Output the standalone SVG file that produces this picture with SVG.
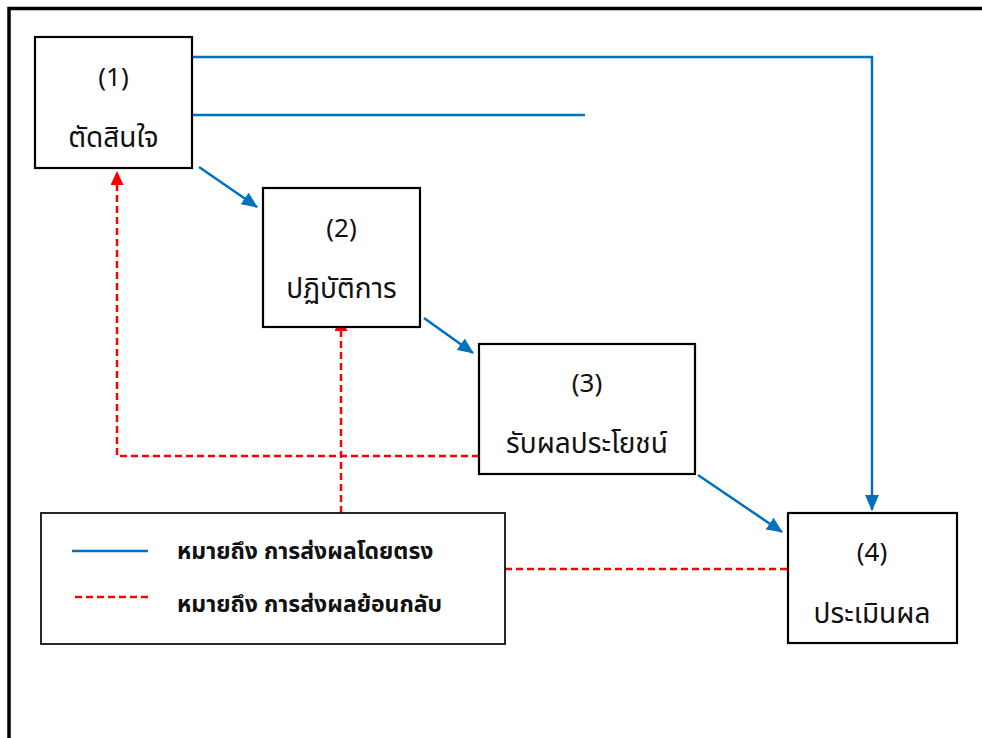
<svg xmlns="http://www.w3.org/2000/svg" width="982" height="738" viewBox="0 0 982 738">
<style>
.box{fill:#fff;stroke:#000;stroke-width:2.2}
.t{font-family:"Noto Sans Thai","Leelawadee UI",Tahoma,"Noto Sans","DejaVu Sans",sans-serif;font-size:28px;fill:#111;text-anchor:middle}
.n{font-family:"Noto Sans","DejaVu Sans",sans-serif;font-size:26px;fill:#111;text-anchor:middle}
.lg{font-family:"Noto Sans Thai","Leelawadee UI",Tahoma,"Noto Sans","DejaVu Sans",sans-serif;font-size:23px;font-weight:bold;fill:#111}
.blue{fill:none;stroke:#0070C0;stroke-width:2.5}
.red{fill:none;stroke:#FF0000;stroke-width:2.5;stroke-dasharray:7,4}
</style>
<defs>
<marker id="ab" markerWidth="16" markerHeight="14" refX="15" refY="7" orient="auto" markerUnits="userSpaceOnUse"><path d="M0,0 L16,7 L0,14 Z" fill="#0070C0"/></marker>
<marker id="ar" markerWidth="14" markerHeight="13" refX="13" refY="6.5" orient="auto" markerUnits="userSpaceOnUse"><path d="M0,0 L14,6.5 L0,13 Z" fill="#FF0000"/></marker>
</defs>
<rect x="0" y="0" width="982" height="738" fill="#fff"/>
<path d="M9,738 V8.5 H982" fill="none" stroke="#000" stroke-width="3.5"/>
<g id="connectors">
<path class="blue" d="M192,57 H872 V510" marker-end="url(#ab)"/>
<path class="blue" d="M192,115 H585"/>
<path class="blue" d="M199,167 L257,207" marker-end="url(#ab)"/>
<path class="blue" d="M424,318 L473,353" marker-end="url(#ab)"/>
<path class="blue" d="M698,475 L782,532" marker-end="url(#ab)"/>
<path class="red" d="M479,456 H117 V172" marker-end="url(#ar)"/>
<path class="red" d="M341,513 V318" marker-end="url(#ar)"/>
<path class="red" d="M505,569 H788"/>
</g>
<g id="n1"><rect class="box" x="35" y="37" width="157" height="131"/>
<text class="n" x="113.5" y="86">(1)</text><text class="t" x="113.5" y="147">ตัดสินใจ</text></g>
<g id="n2"><rect class="box" x="263" y="188" width="157" height="139"/>
<text class="n" x="341.5" y="237">(2)</text><text class="t" x="341.5" y="298">ปฏิบัติการ</text></g>
<g id="n3"><rect class="box" x="479" y="344" width="216" height="130"/>
<text class="n" x="587" y="392">(3)</text><text class="t" x="587" y="453">รับผลประโยชน์</text></g>
<g id="n4"><rect class="box" x="788" y="513" width="169" height="130"/>
<text class="n" x="872" y="561">(4)</text><text class="t" x="872" y="623">ประเมินผล</text></g>
<g id="legend"><rect x="41" y="513" width="464" height="131" fill="#fff" stroke="#111" stroke-width="1.8"/>
<line class="blue" x1="72" y1="551" x2="148" y2="551"/>
<line class="red" x1="75" y1="597" x2="151" y2="597"/>
<text class="lg" x="177" y="559">หมายถึง การส่งผลโดยตรง</text>
<text class="lg" x="177" y="612">หมายถึง การส่งผลย้อนกลับ</text></g>
</svg>
